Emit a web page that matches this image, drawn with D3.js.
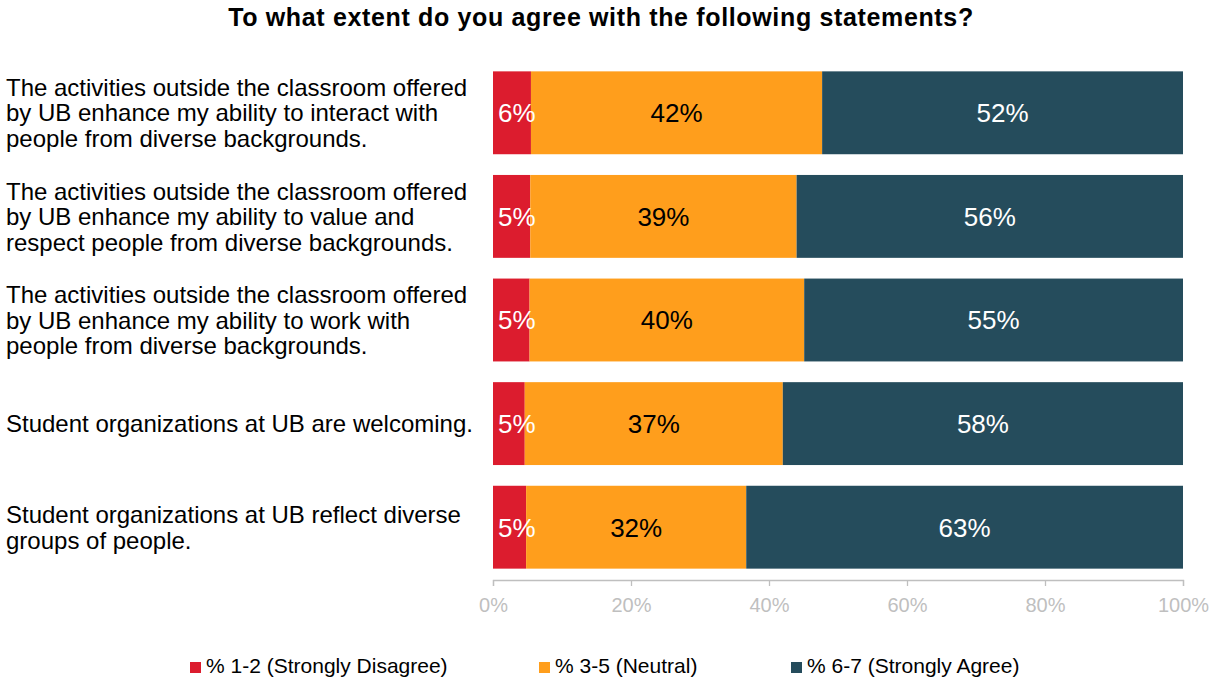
<!DOCTYPE html>
<html>
<head>
<meta charset="utf-8">
<script src="https://cdn.jsdelivr.net/npm/d3@7/dist/d3.min.js"></script>
<style>
  html, body { margin: 0; padding: 0; background: #ffffff; }
  svg { display: block; font-family: "Liberation Sans", Arial, sans-serif; }
</style>
</head>
<body>
<svg id="chart" width="1211" height="677"></svg>
<script>
// Survey statements (one entry per bar, lines split for wrapping)
const statements = [
  ["The activities outside the classroom offered", "by UB enhance my ability to interact with", "people from diverse backgrounds."],
  ["The activities outside the classroom offered", "by UB enhance my ability to value and", "respect people from diverse backgrounds."],
  ["The activities outside the classroom offered", "by UB enhance my ability to work with", "people from diverse backgrounds."],
  ["Student organizations at UB are welcoming."],
  ["Student organizations at UB reflect diverse", "groups of people."]
];

// Series names
const seriesNames = ["% 1-2 (Strongly Disagree)", "% 3-5 (Neutral)", "% 6-7 (Strongly Agree)"];

// Share of respondents (%) per statement
const disagree = [5.5, 5.4, 5.3, 4.6, 4.8];
const neutral  = [42.2, 38.6, 39.8, 37.4, 31.9];
const agree    = [52.3, 56.0, 54.9, 58.0, 63.3];

// Axis tick values
const tickValues = [0, 20, 40, 60, 80, 100];

const colors = ["#DC1C2E", "#FF9E1C", "#254C5C"];
const labelColors = ["#ffffff", "#000000", "#ffffff"];

const svg = d3.select("#chart");
const margin = { left: 493, right: 28, top: 61, bottom: 98 };
const W = 1211, H = 677;

const x = d3.scaleLinear().domain([0, 100]).range([margin.left, W - margin.right]);
const y = d3.scaleBand()
  .domain(d3.range(statements.length))
  .range([margin.top, H - margin.bottom])
  .paddingInner(0.2)
  .paddingOuter(0.1);

// Title
svg.append("text")
  .attr("x", 601).attr("y", 26)
  .attr("text-anchor", "middle")
  .attr("font-size", 25).attr("font-weight", "bold")
  .attr("letter-spacing", 0.65)
  .attr("fill", "#000")
  .text("To what extent do you agree with the following statements?");

// Stack the three series
const rows = statements.map((s, i) => ({ i, v: [disagree[i], neutral[i], agree[i]] }));
const stackData = rows.map(r => {
  let acc = 0;
  return r.v.map((v, k) => { const seg = { i: r.i, k, v, x0: acc, x1: acc + v }; acc += v; return seg; });
});

const g = svg.append("g");
g.selectAll("g.row").data(stackData).join("g").attr("class", "row")
  .selectAll("rect").data(d => d).join("rect")
  .attr("x", d => x(d.x0))
  .attr("y", d => y(d.i))
  .attr("width", d => x(d.x1) - x(d.x0))
  .attr("height", y.bandwidth())
  .attr("fill", d => colors[d.k]);

// Value labels: centred in the segment, but never starting left of its edge
const fmt = v => Math.round(v) + "%";
g.selectAll("g.lbl").data(stackData).join("g").attr("class", "lbl")
  .selectAll("text").data(d => d).join("text")
  .attr("y", d => y(d.i) + y.bandwidth() / 2)
  .attr("dy", "0.36em")
  .attr("text-anchor", "middle")
  .attr("font-size", 26)
  .attr("fill", d => labelColors[d.k])
  .text(d => fmt(d.v))
  .attr("x", function(d) {
    const w = this.getComputedTextLength();
    const c = (x(d.x0) + x(d.x1)) / 2;
    return Math.max(c, x(d.x0) + 5 + w / 2);
  });

// Category labels
const lineH = 25.5;
svg.append("g").selectAll("text").data(statements).join("text")
  .attr("x", 6)
  .attr("font-size", 24)
  .attr("fill", "#000")
  .each(function(lines, i) {
    const cy = y(i) + y.bandwidth() / 2;
    const t = d3.select(this);
    lines.forEach((ln, j) => {
      t.append("tspan")
        .attr("x", 6)
        .attr("y", cy + (j - (lines.length - 1) / 2) * lineH)
        .attr("dy", "0.36em")
        .text(ln);
    });
  });

// X axis
const axisY = H - margin.bottom + 1;
const axis = svg.append("g")
  .attr("transform", `translate(0,${axisY})`)
  .call(d3.axisBottom(x).tickValues(tickValues).tickSize(6).tickPadding(12).tickFormat(d => d + "%"));
axis.select(".domain").attr("stroke", "#BFBFBF").attr("stroke-width", 1.3);
axis.selectAll(".tick line").attr("stroke", "#BFBFBF").attr("stroke-width", 1.3);
axis.selectAll(".tick text")
  .attr("fill", "#BFBFBF")
  .attr("font-size", 20)
  .attr("font-family", "'Liberation Sans', Arial, sans-serif");

// Legend
const legendX = [190, 539, 791];
const legend = svg.append("g").selectAll("g").data(seriesNames).join("g")
  .attr("transform", (d, i) => `translate(${legendX[i]},673)`);
legend.append("rect")
  .attr("x", 0).attr("y", -11).attr("width", 11).attr("height", 11)
  .attr("fill", (d, i) => colors[i]);
legend.append("text")
  .attr("x", 16).attr("y", 0)
  .attr("font-size", 21)
  .attr("fill", "#000")
  .text(d => d);
</script>
</body>
</html>
